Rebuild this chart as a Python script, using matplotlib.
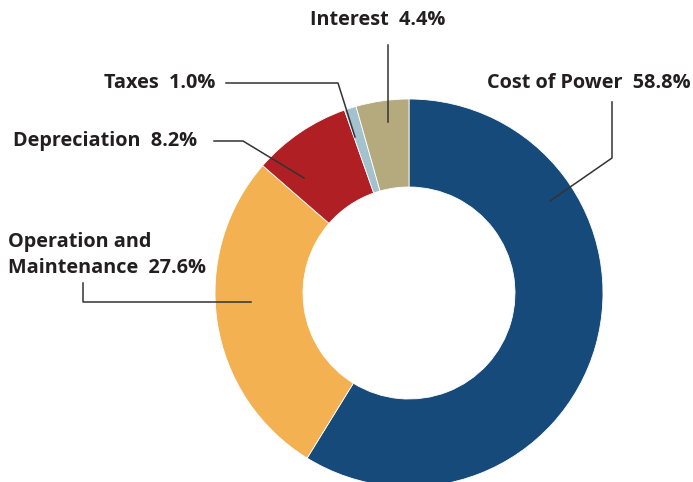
import matplotlib
matplotlib.use("Agg")
import matplotlib.pyplot as plt

categories = ["Cost of Power", "Operation and\nMaintenance", "Depreciation", "Taxes", "Interest"]
values = [58.8, 27.6, 8.2, 1.0, 4.4]
colors = ["#164A7B", "#F3B151", "#B01F24", "#A3C2CE", "#B5AA7E"]

W, H = 693, 482
fig = plt.figure(figsize=(W / 100, H / 100), dpi=100)
ax = fig.add_axes([0, 0, 1, 1])

cx, cy, R = 409, H - 293, 194
ax.pie(values, colors=colors, startangle=90, counterclock=False,
       center=(cx, cy), radius=R, frame=True,
       wedgeprops=dict(width=88, edgecolor="white", linewidth=0.6))
ax.set_xlim(0, W)
ax.set_ylim(0, H)
ax.set_aspect("equal")
ax.axis("off")

tc = "#231F20"
font = dict(family=["Open Sans", "DejaVu Sans"], fontweight="bold", fontsize=14.3, color=tc)
lk = dict(color="#333333", lw=1.1)

def P(x, y):
    return x, H - y

def line(pts):
    xs = [p[0] for p in pts]
    ys = [H - p[1] for p in pts]
    ax.plot(xs, ys, **lk)

labels = [f"{c}  {v:.1f}%" for c, v in zip(categories, values)]

# Cost of Power
ax.text(*P(691, 83), labels[0], ha="right", va="center", **font)
line([(612, 102), (612, 158), (550, 201)])
# Operation and Maintenance
ax.text(*P(8, 255), labels[1], ha="left", va="center", linespacing=1.4, **font)
line([(83, 283), (83, 302), (251, 302)])
# Depreciation
ax.text(*P(197, 141), labels[2], ha="right", va="center", **font)
line([(214, 141), (243, 141), (304, 178)])
# Taxes
ax.text(*P(215, 83), labels[3], ha="right", va="center", **font)
line([(226, 83), (338, 83), (355, 137)])
# Interest
ax.text(*P(378, 20), labels[4], ha="center", va="center", **font)
line([(388, 45), (388, 122)])

fig.savefig("out.png", dpi=100)
